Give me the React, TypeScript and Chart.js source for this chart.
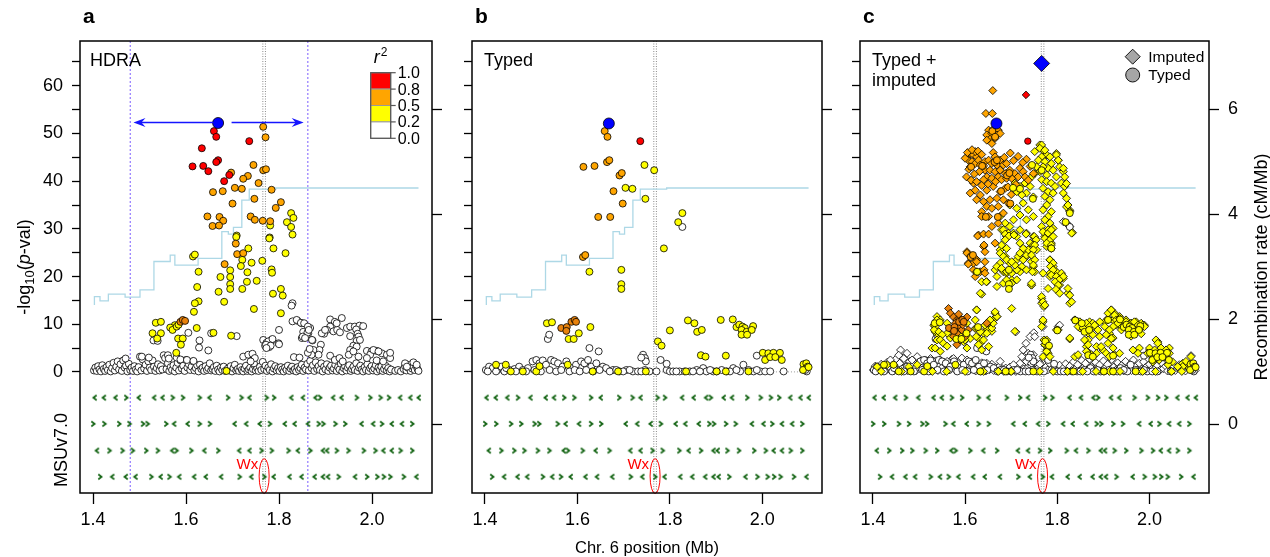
import React, { useEffect, useRef } from "react";
import { Chart, registerables } from "chart.js";

Chart.register(...registerables);

type Pt = [number, number];
type PanelKey = "a" | "b" | "c";

const FONT = "'Liberation Sans', Arial, Helvetica, sans-serif";

// ---------- axes ----------
const xTickValues = [1.4, 1.6, 1.8, 2.0];
const pvalTickValues = [0, 5, 10, 15, 20, 25, 30, 35, 40, 45, 50, 55, 60, 65];
const recombTickValues = [0, 2, 4, 6];
const xRange: Pt = [1.372, 2.129];
const pvalRange: Pt = [-25.4, 69.4];
const recombRange: Pt = [-1.31, 7.3];

const r2Labels = ["1.0", "0.8", "0.5", "0.2", "0.0"];
const r2Colors = ["#FF0000", "#FFA500", "#FFFF00", "#FFFFFF"];

// ---------- annotations ----------
const wxPosition = 1.768;
const wxLabelValue = -19.6;
const wxOvalTop = -18.2;
const wxOvalBottom = -25.5;
const hdraIntervalLeft = 1.48;
const hdraIntervalRight = 1.862;
const hdraArrowY = 52.3;
const hdraArrowLeft: Pt = [1.659, 1.487];
const hdraArrowRight: Pt = [1.698, 1.853];

// ---------- recombination rate (cM/Mb), step line ----------
const recombPos = [1.403, 1.415, 1.433, 1.469, 1.501, 1.531, 1.566, 1.576, 1.626, 1.677, 1.691, 1.702, 1.72, 1.736, 1.793, 2.078, 2.1];
const recombRate = [2.27, 2.43, 2.35, 2.48, 2.42, 2.56, 3.1, 3.22, 3.03, 3.16, 3.67, 3.62, 3.75, 4.27, 4.48, 4.5, 4.5];

// ---------- MSUv7.0 gene track: [position, strand] ----------
const geneRowY = [-5.4, -10.9, -16.5, -22];
const geneRow1: Pt[] = [[1.404,-1],[1.424,-1],[1.449,-1],[1.471,1],[1.499,-1],[1.532,-1],[1.55,-1],[1.571,1],[1.593,1],[1.629,1],[1.651,-1],[1.69,1],[1.719,1],[1.737,-1],[1.773,1],[1.789,1],[1.827,-1],[1.852,-1],[1.879,-1],[1.888,1],[1.917,-1],[1.935,-1],[1.967,1],[1.996,1],[2.018,1],[2.036,1],[2.061,-1],[2.083,-1],[2.101,-1]];
const geneRow2: Pt[] = [[1.4,1],[1.424,1],[1.456,1],[1.478,1],[1.507,1],[1.517,1],[1.557,1],[1.575,-1],[1.604,-1],[1.629,1],[1.651,1],[1.705,-1],[1.73,-1],[1.759,-1],[1.78,1],[1.813,-1],[1.834,-1],[1.863,-1],[1.885,1],[1.895,1],[1.921,1],[1.942,1],[1.978,-1],[2.003,-1],[2.021,1],[2.043,-1],[2.065,-1],[2.086,1]];
const geneRow3: Pt[] = [[1.409,-1],[1.435,1],[1.463,1],[1.485,1],[1.514,1],[1.539,1],[1.571,-1],[1.579,1],[1.611,1],[1.64,-1],[1.669,1],[1.715,-1],[1.737,-1],[1.762,1],[1.784,1],[1.82,1],[1.841,-1],[1.867,1],[1.895,-1],[1.904,-1],[1.924,1],[1.949,1],[1.982,1],[2.007,1],[2.025,-1],[2.043,-1],[2.061,1],[2.086,1]];
const geneRow4: Pt[] = [[1.415,1],[1.442,-1],[1.471,-1],[1.492,-1],[1.525,1],[1.546,-1],[1.564,1],[1.586,-1],[1.618,-1],[1.643,-1],[1.676,-1],[1.715,1],[1.741,-1],[1.768,1],[1.789,-1],[1.823,-1],[1.849,-1],[1.877,-1],[1.895,-1],[1.906,-1],[1.928,1],[1.964,-1],[1.989,1],[2.011,1],[2.025,1],[2.039,1],[2.068,1],[2.096,-1]];

// ---------- panel a: HDRA ----------
const hdraLead: Pt[] = [[1.669, 52.2]];
const hdraRed: Pt[] = [[1.66,50.5],[1.665,49.3],[1.736,48.4],[1.634,46.9],[1.669,44.4],[1.665,44.0],[1.614,43.1],[1.637,43.2],[1.648,42.1],[1.693,41.3],[1.682,40.0]];
const hdraOrange: Pt[] = [[1.766,51.4],[1.771,49.2],[1.745,43.4],[1.766,42.3],[1.772,42.5],[1.697,41.8],[1.733,41.1],[1.723,40.5],[1.756,39.6],[1.784,38.2],[1.658,37.7],[1.679,37.9],[1.705,38.6],[1.72,38.4],[1.747,36.3],[1.804,35.6],[1.7,35.3],[1.793,34.4],[1.646,32.6],[1.672,32.5],[1.739,32.6],[1.68,31.7],[1.657,30.6],[1.671,30.7],[1.748,31.9],[1.765,31.7],[1.781,31.6],[1.707,26.9],[1.71,24.7],[1.723,24.9],[1.683,22.6]];
const hdraOrangeDark: Pt[] = [[1.588,10.5],[1.593,10.9],[1.598,10.7]];
const hdraYellow: Pt[] = [[1.781,30.7],[1.826,33.3],[1.831,32.3],[1.817,31.4],[1.826,30.4],[1.829,28.8],[1.709,28.6],[1.78,28.2],[1.708,28.3],[1.734,25.9],[1.721,23.5],[1.741,22.9],[1.718,22.2],[1.764,23.3],[1.695,21.3],[1.732,20.9],[1.784,21.5],[1.785,20.8],[1.627,21.0],[1.615,24.2],[1.619,24.6],[1.814,24.9],[1.788,25.9],[1.779,28.0],[1.674,19.9],[1.695,19.9],[1.695,18.4],[1.695,17.4],[1.731,18.9],[1.752,19.1],[1.721,17.4],[1.624,17.8],[1.67,16.8],[1.787,16.4],[1.808,16.0],[1.804,17.4],[1.627,14.8],[1.619,14.4],[1.682,14.7],[1.746,13.2],[1.617,12.6],[1.804,12.3],[1.535,10.3],[1.546,10.5],[1.576,9.8],[1.566,9.3],[1.571,8.8],[1.58,9.5],[1.584,9.9],[1.623,9.2],[1.528,8.1],[1.546,8.1],[1.538,7.0],[1.583,7.0],[1.593,7.0],[1.589,5.7],[1.579,4.0],[1.659,8.2],[1.697,7.6],[1.687,0.2]];
const hdraWhite: Pt[] = [[1.829,14.4],[1.827,13.9],[1.829,10.6],[1.84,10.7],[1.849,10.2],[1.8,8.8],[1.852,8.4],[1.863,8.1],[1.859,7.4],[1.849,7.1],[1.872,6.6],[1.766,6.7],[1.773,6.1],[1.77,5.5],[1.784,6.7],[1.779,5.2],[1.799,6.0],[1.629,6.6],[1.628,5.1],[1.53,6.6],[1.539,6.5],[1.605,8.2],[1.648,4.5],[1.709,7.5],[1.723,3.2],[1.741,3.6],[1.745,2.7],[1.746,1.8],[1.832,3.1],[1.654,8.1],[1.734,3.6],[1.743,3.8],[1.748,2.9],[1.739,2.2],[1.777,6.4],[1.786,6.9],[1.772,5.7],[1.782,5.5],[1.8,5.8],[1.773,5.0],[1.844,3.0],[1.838,10.9],[1.847,10.3],[1.854,10.2],[1.867,9.2],[1.861,8.2],[1.851,7.4],[1.856,7.1],[1.871,6.7],[1.91,11.0],[1.92,10.5],[1.935,11.3],[1.91,9.5],[1.903,8.8],[1.897,8.0],[1.917,8.5],[1.925,8.8],[1.931,8.3],[1.946,9.2],[1.953,9.5],[1.963,9.5],[1.973,9.7],[1.981,9.6],[1.966,8.9],[1.969,8.0],[1.953,7.5],[1.971,7.4],[1.967,6.5],[1.96,5.5],[1.953,4.6],[1.95,3.6],[1.971,3.2],[1.989,4.4],[1.999,4.3],[2.01,4.4],[2.021,3.9],[2.032,3.6],[2.039,2.9],[1.996,3.6],[1.989,2.9],[2.01,2.4],[2.024,2.2],[1.91,3.4],[1.92,2.5],[1.93,2.9],[1.937,2.2],[1.89,5.7],[1.887,4.6],[1.885,3.6],[1.874,4.6],[1.87,3.6],[2.071,1.8],[2.089,2.0],[2.096,1.5],[2.075,1.1],[1.892,8.1],[1.899,8.8],[1.924,10.2],[1.974,6.7],[1.967,5.3],[1.96,4.3],[2.003,4.6],[2.014,4.3],[2.039,4.0],[1.862,9.5],[1.864,8.8],[1.862,4.0],[1.866,4.8],[1.505,3.2],[1.47,2.8],[1.52,3.0],[1.561,3.5],[1.563,2.8],[1.58,3.0],[1.588,2.6],[1.602,2.5],[1.616,2.3]];
const hdraBase: Pt[] = [[1.402,0.3],[1.405,0.9],[1.408,0.2],[1.411,1.2],[1.414,0.5],[1.417,0.1],[1.42,1.4],[1.423,0.6],[1.426,0.2],[1.429,1.0],[1.432,0.4],[1.435,1.5],[1.438,0.1],[1.441,0.8],[1.444,1.9],[1.447,0.3],[1.45,1.1],[1.453,2.2],[1.456,0.5],[1.459,1.6],[1.462,0.2],[1.465,2.4],[1.468,0.9],[1.471,1.3],[1.474,0.1],[1.477,1.7],[1.48,0.4],[1.483,0.9],[1.486,0.2],[1.489,1.2],[1.492,0.5],[1.495,0.1],[1.498,1.0],[1.501,3.2],[1.504,0.3],[1.507,2.6],[1.51,0.7],[1.513,1.5],[1.516,0.2],[1.519,2.2],[1.522,0.9],[1.525,0.4],[1.528,2.4],[1.531,1.1],[1.534,0.2],[1.537,0.8],[1.54,1.6],[1.543,0.3],[1.546,1.2],[1.549,0.5],[1.552,3.5],[1.555,2.9],[1.558,0.6],[1.561,1.8],[1.564,0.2],[1.567,1.0],[1.57,0.4],[1.573,1.4],[1.576,0.1],[1.579,0.9],[1.582,1.9],[1.585,0.3],[1.588,2.4],[1.591,0.7],[1.594,1.3],[1.597,0.2],[1.6,2.5],[1.603,0.9],[1.606,1.6],[1.609,0.4],[1.612,1.1],[1.615,2.2],[1.618,0.3],[1.621,0.8],[1.624,1.4],[1.627,0.1],[1.63,1.5],[1.633,0.6],[1.636,0.9],[1.639,0.2],[1.642,1.2],[1.645,0.4],[1.648,0.8],[1.651,1.8],[1.654,0.3],[1.657,0.6],[1.66,1.0],[1.663,0.2],[1.666,1.3],[1.669,0.5],[1.672,0.1],[1.675,0.9],[1.678,0.4],[1.681,1.1],[1.684,0.2],[1.69,0.7],[1.693,0.3],[1.696,1.2],[1.699,0.1],[1.702,0.8],[1.705,1.5],[1.708,0.3],[1.711,0.6],[1.714,0.2],[1.717,1.0],[1.72,0.4],[1.723,0.1],[1.726,0.7],[1.729,1.3],[1.732,0.2],[1.735,0.5],[1.738,0.9],[1.741,0.1],[1.744,0.6],[1.747,1.4],[1.75,0.3],[1.753,0.8],[1.756,0.2],[1.759,1.1],[1.762,0.4],[1.765,2.1],[1.768,0.6],[1.771,1.3],[1.774,0.2],[1.777,0.9],[1.78,0.4],[1.783,1.6],[1.786,0.1],[1.789,0.7],[1.792,1.2],[1.795,0.3],[1.798,0.8],[1.801,0.2],[1.804,1.0],[1.807,0.5],[1.81,0.1],[1.813,0.9],[1.816,0.4],[1.819,1.3],[1.822,0.2],[1.825,0.7],[1.828,1.1],[1.831,0.3],[1.834,0.6],[1.837,0.1],[1.84,1.0],[1.843,0.4],[1.846,0.8],[1.849,1.5],[1.852,0.2],[1.855,0.9],[1.858,0.5],[1.861,1.7],[1.864,0.3],[1.867,2.3],[1.87,0.8],[1.873,1.4],[1.876,0.2],[1.879,2.0],[1.882,0.6],[1.885,1.2],[1.888,0.4],[1.891,1.8],[1.894,0.1],[1.897,1.1],[1.9,0.5],[1.903,1.6],[1.906,0.2],[1.909,0.9],[1.912,1.3],[1.915,0.3],[1.918,0.7],[1.921,1.5],[1.924,0.2],[1.927,1.0],[1.93,0.5],[1.933,1.7],[1.936,0.1],[1.939,0.8],[1.942,1.2],[1.945,0.3],[1.948,0.9],[1.951,1.4],[1.954,0.2],[1.957,0.6],[1.96,1.1],[1.963,0.4],[1.966,1.8],[1.969,0.2],[1.972,0.9],[1.975,1.3],[1.978,0.5],[1.981,0.1],[1.984,1.0],[1.987,0.4],[1.99,1.6],[1.993,0.2],[1.996,0.8],[1.999,1.2],[2.002,0.3],[2.005,0.7],[2.008,1.4],[2.011,0.1],[2.014,0.9],[2.017,0.4],[2.02,1.1],[2.023,0.2],[2.026,0.6],[2.029,1.3],[2.032,0.3],[2.035,0.8],[2.038,0.1],[2.041,0.5],[2.05,0.2],[2.056,0.4],[2.062,0.1],[2.068,0.6],[2.071,1.2],[2.074,0.3],[2.077,0.9],[2.08,1.5],[2.083,0.2],[2.086,0.7],[2.089,1.1],[2.092,0.4],[2.095,1.3],[2.098,0.6],[2.1,0.2]];

// ---------- panel b: typed ----------
const typedLead: Pt[] = [[1.668, 52.1]];
const typedRed: Pt[] = [[1.736, 48.4]];
const typedOrange: Pt[] = [[1.659,50.5],[1.665,49.3],[1.664,44.0],[1.669,44.4],[1.613,43.0],[1.637,43.2],[1.691,41.2],[1.696,41.7],[1.678,37.9],[1.698,35.3],[1.645,32.5],[1.671,32.5],[1.612,24.1],[1.617,24.5]];
const typedOrangeDark: Pt[] = [[1.565,9.2],[1.577,9.4],[1.587,10.5],[1.594,10.9],[1.597,10.5],[1.576,8.6]];
const typedYellow: Pt[] = [[1.745,43.4],[1.766,42.3],[1.704,38.6],[1.719,38.4],[1.747,36.3],[1.827,33.3],[1.818,31.4],[1.787,25.9],[1.626,21.0],[1.695,21.4],[1.695,18.4],[1.695,17.4],[1.534,10.2],[1.545,10.4],[1.581,6.9],[1.592,6.9],[1.603,8.1],[1.628,9.4],[1.774,6.4],[1.782,5.5],[1.8,8.7],[1.839,10.8],[1.853,10.2],[1.859,8.4],[1.869,8.8],[1.867,3.5],[1.877,3.2],[1.91,10.9],[1.936,11.0],[1.944,9.4],[1.95,9.9],[1.957,9.5],[1.962,9.2],[1.955,8.8],[1.966,8.4],[1.98,9.6],[1.977,8.8],[1.955,7.8],[1.967,7.8],[1.921,3.4],[2.001,4.0],[2.013,3.9],[2.024,4.0],[2.038,4.0],[2.006,2.5],[2.017,3.1],[2.028,3.1],[2.042,2.5],[2.089,1.6],[2.095,1.8],[2.098,1.1],[2.088,0.4],[2.1,1.0]];
const typedBaseYellow: Pt[] = [[1.424,1.5],[1.445,1.5],[1.456,0.1],[1.482,0.1],[1.511,0.1],[1.518,1.2],[1.579,1.5],[1.633,0.1],[1.688,0.1],[1.748,0.1],[1.835,0.1],[1.901,0.1],[1.921,0.1],[1.97,0.1]];
const typedWhite: Pt[] = [[1.827,30.4],[1.536,6.9],[1.539,7.8],[1.626,5.0],[1.646,4.3],[1.742,3.6],[1.746,2.9],[1.748,2.2],[1.738,3.0],[1.78,2.5],[1.793,1.7],[1.988,3.4]];
const typedBase: Pt[] = [[1.402,0.4],[1.409,1.1],[1.417,0.8],[1.427,0.4],[1.435,1.1],[1.442,0.1],[1.453,0.4],[1.464,0.6],[1.474,1.1],[1.482,0.4],[1.493,0.8],[1.503,2.2],[1.511,2.5],[1.518,1.8],[1.525,2.4],[1.532,1.5],[1.543,2.5],[1.55,2.2],[1.558,1.8],[1.568,1.1],[1.576,2.2],[1.587,0.8],[1.597,1.5],[1.608,2.2],[1.615,1.8],[1.623,2.5],[1.63,1.1],[1.641,1.8],[1.655,1.1],[1.662,0.8],[1.677,0.4],[1.691,0.1],[1.706,0.4],[1.72,0.1],[1.731,0.1],[1.746,0.4],[1.756,0.1],[1.771,0.1],[1.793,0.4],[1.8,0.1],[1.807,0.1],[1.821,0.1],[1.832,0.1],[1.843,0.1],[1.858,0.4],[1.872,0.8],[1.879,0.1],[1.894,0.1],[1.912,0.4],[1.923,0.1],[1.937,0.8],[1.952,0.1],[1.959,1.5],[1.97,0.4],[1.981,0.1],[1.995,0.1],[2.006,0.1],[2.017,0.1],[2.046,0.1],[2.096,0.1],[1.406,0.1],[1.424,0.1],[1.446,0.8],[1.467,0.1],[1.489,0.1],[1.507,0.4],[1.521,0.1],[1.54,0.4],[1.554,0.1],[1.565,0.4],[1.583,0.1],[1.594,0.4],[1.605,0.1],[1.619,0.4],[1.634,0.1],[1.648,0.4],[1.67,0.1],[1.684,0.4],[1.699,0.1],[1.713,0.4],[1.738,0.1],[1.814,0.1],[1.85,0.1],[1.865,0.1],[1.887,0.4],[1.901,0.1],[1.93,0.1],[1.944,0.4],[1.988,0.4],[2.093,0.4]];

// ---------- panel c: typed + imputed (imputed = diamonds) ----------
const imputedLead: Pt[] = [[1.766, 64.7]];
const imputedRed: Pt[] = [[1.732, 58.1]];
const imputedOrange: Pt[] = [[1.66,59.0],[1.645,54.2],[1.659,54.2],[1.651,50.7],[1.661,50.9],[1.672,50.7],[1.647,49.7],[1.658,50.0],[1.669,49.7],[1.654,48.8],[1.665,49.0],[1.676,50.0],[1.647,48.6],[1.658,47.9],[1.604,45.1],[1.611,45.8],[1.618,45.5],[1.625,45.1],[1.607,44.4],[1.615,44.1],[1.622,43.7],[1.629,44.4],[1.611,43.0],[1.633,43.4],[1.6,44.8],[1.622,46.2],[1.661,46.0],[1.665,45.1],[1.676,44.4],[1.643,44.1],[1.651,44.4],[1.658,43.7],[1.669,43.4],[1.683,43.4],[1.643,42.3],[1.654,42.3],[1.665,42.0],[1.676,42.3],[1.687,41.6],[1.647,40.9],[1.658,40.6],[1.672,40.9],[1.679,40.3],[1.69,40.6],[1.64,40.3],[1.697,42.3],[1.708,41.6],[1.719,42.7],[1.726,42.0],[1.733,44.6],[1.741,43.1],[1.715,40.9],[1.73,40.9],[1.737,40.2],[1.748,41.6],[1.701,40.6],[1.611,37.5],[1.622,38.1],[1.633,37.1],[1.647,38.1],[1.661,38.9],[1.676,37.8],[1.687,38.5],[1.625,36.1],[1.64,35.7],[1.654,36.1],[1.669,36.4],[1.683,36.1],[1.647,34.7],[1.658,34.3],[1.636,33.6],[1.672,34.7],[1.694,35.4],[1.618,39.6],[1.683,33.3],[1.636,32.6],[1.651,32.6],[1.658,30.5],[1.672,31.2],[1.629,28.7],[1.64,26.3],[1.604,25.2],[1.607,22.8],[1.618,21.4],[1.643,25.2],[1.625,23.5],[1.627,28.5],[1.64,28.9],[1.651,28.9],[1.665,27.0],[1.641,26.6],[1.604,24.9],[1.612,24.3],[1.622,23.8],[1.618,22.8],[1.607,22.6],[1.625,23.1],[1.633,21.0],[1.622,20.0],[1.643,23.1],[1.641,21.4],[1.625,21.0],[1.643,20.7],[1.605,46.0],[1.615,46.6],[1.628,46.3],[1.636,45.6],[1.64,43.2],[1.631,42.0],[1.62,41.5],[1.608,42.5],[1.603,40.9],[1.613,40.2],[1.625,39.9],[1.636,39.1],[1.65,39.4],[1.666,39.9],[1.693,38.8],[1.7,37.2],[1.71,39.3],[1.69,43.7],[1.705,44.3],[1.715,45.2],[1.725,43.9],[1.698,45.9],[1.685,45.0]];
const imputedOrangeDark: Pt[] = [[1.564,13.3],[1.568,12.3],[1.575,11.5],[1.582,10.9],[1.589,11.2],[1.597,10.9],[1.604,11.5],[1.579,10.2],[1.589,9.5],[1.571,8.8],[1.582,8.1],[1.593,8.8],[1.575,7.4],[1.589,6.7],[1.582,5.7],[1.6,7.4],[1.607,8.8],[1.647,10.2],[1.586,12.1],[1.595,9.9]];
const imputedYellow: Pt[] = [[1.751,46.2],[1.762,47.6],[1.769,46.5],[1.777,45.5],[1.766,45.1],[1.759,44.4],[1.773,44.1],[1.784,45.1],[1.787,43.7],[1.78,42.7],[1.769,43.0],[1.755,43.0],[1.762,42.0],[1.777,41.3],[1.791,42.3],[1.798,45.8],[1.802,44.4],[1.805,43.0],[1.813,42.0],[1.798,40.9],[1.751,41.6],[1.744,40.9],[1.708,39.6],[1.719,38.9],[1.73,39.6],[1.741,38.9],[1.733,37.5],[1.723,37.1],[1.712,37.8],[1.748,36.7],[1.697,35.0],[1.712,34.3],[1.726,35.4],[1.737,34.0],[1.719,32.9],[1.705,31.9],[1.733,31.9],[1.748,32.6],[1.766,40.3],[1.777,39.9],[1.787,39.6],[1.795,38.9],[1.769,38.5],[1.78,37.8],[1.791,37.5],[1.773,36.8],[1.784,36.1],[1.777,35.0],[1.769,34.0],[1.787,33.6],[1.78,32.6],[1.773,31.9],[1.784,31.2],[1.791,30.1],[1.777,29.4],[1.766,30.5],[1.809,39.6],[1.816,38.9],[1.813,37.5],[1.82,36.4],[1.823,35.0],[1.827,33.9],[1.82,34.6],[1.833,29.2],[1.676,32.6],[1.687,31.2],[1.697,30.5],[1.679,29.8],[1.694,29.1],[1.719,29.8],[1.733,29.1],[1.712,28.4],[1.748,28.4],[1.766,47.6],[1.762,46.9],[1.773,46.5],[1.798,45.5],[1.802,44.4],[1.813,42.7],[1.816,40.9],[1.82,39.5],[1.823,35.0],[1.827,33.6],[1.683,29.8],[1.69,28.4],[1.705,29.1],[1.719,27.0],[1.73,25.6],[1.741,27.0],[1.752,28.0],[1.676,25.6],[1.687,24.2],[1.697,22.8],[1.712,23.5],[1.723,22.1],[1.733,24.2],[1.744,21.4],[1.683,21.0],[1.665,21.4],[1.784,23.5],[1.791,22.1],[1.798,21.0],[1.809,20.3],[1.784,20.7],[1.777,26.3],[1.78,29.8],[1.773,28.4],[1.787,27.0],[1.636,16.3],[1.647,18.9],[1.669,20.0],[1.683,18.6],[1.69,20.7],[1.701,19.3],[1.719,21.0],[1.744,18.2],[1.769,20.7],[1.784,20.0],[1.798,18.9],[1.805,18.2],[1.813,19.6],[1.823,16.5],[1.78,17.5],[1.766,15.4],[1.766,14.4],[1.771,13.7],[1.827,14.4],[1.701,13.3],[1.625,13.0],[1.665,12.3],[1.661,10.9],[1.654,9.8],[1.647,9.1],[1.64,8.1],[1.629,7.0],[1.633,6.0],[1.622,9.1],[1.658,8.5],[1.669,11.6],[1.651,10.5],[1.539,11.6],[1.546,10.9],[1.532,9.8],[1.535,8.4],[1.543,7.7],[1.539,6.7],[1.528,5.0],[1.546,4.3],[1.561,8.1],[1.586,7.4],[1.597,6.3],[1.611,7.0],[1.604,5.0],[1.769,10.5],[1.766,9.5],[1.777,6.7],[1.773,5.7],[1.777,4.6],[1.78,3.9],[1.769,3.2],[1.708,8.5],[1.802,8.8],[1.827,6.9],[1.838,10.9],[1.845,10.5],[1.852,10.2],[1.863,9.8],[1.87,10.5],[1.877,10.2],[1.849,9.2],[1.859,8.8],[1.867,8.1],[1.874,9.2],[1.867,6.7],[1.863,5.3],[1.87,3.9],[1.877,3.2],[1.885,5.3],[1.899,4.6],[1.906,3.9],[1.917,13.0],[1.924,12.3],[1.91,11.2],[1.903,10.5],[1.921,10.9],[1.935,11.6],[1.942,10.5],[1.928,9.8],[1.949,10.9],[1.96,10.2],[1.971,10.5],[1.982,10.2],[1.989,9.8],[1.964,9.2],[1.953,9.5],[1.939,9.5],[1.913,8.1],[1.921,7.1],[1.91,6.0],[1.964,4.6],[1.978,5.0],[1.975,3.9],[2.0,4.6],[2.011,4.3],[2.018,6.3],[2.025,4.3],[2.036,4.6],[2.043,5.0],[2.032,3.2],[2.021,2.5],[2.007,2.1],[2.05,2.1],[2.04,1.5],[2.072,1.8],[2.083,1.1],[2.094,0.8],[2.09,3.2],[1.687,28.9],[1.695,28.5],[1.706,28.7],[1.687,27.7],[1.679,26.6],[1.69,25.9],[1.676,24.9],[1.683,24.2],[1.69,23.5],[1.676,22.8],[1.669,22.1],[1.679,21.7],[1.69,21.0],[1.701,20.7],[1.712,21.4],[1.708,22.4],[1.701,23.1],[1.715,24.2],[1.726,23.5],[1.733,24.5],[1.737,25.6],[1.726,25.9],[1.719,24.9],[1.744,23.1],[1.748,22.1],[1.751,21.0],[1.733,21.4],[1.744,18.2],[1.732,28.9],[1.75,28.4],[1.748,26.6],[1.755,25.6],[1.636,18.9],[1.646,18.9],[1.633,16.5],[1.669,17.9],[1.69,19.3],[1.701,18.6],[1.712,19.3],[1.539,10.9],[1.535,9.5],[1.533,8.8],[1.543,8.4],[1.55,7.8],[1.546,6.7],[1.553,6.0],[1.535,5.0],[1.561,5.4],[1.589,8.1],[1.6,6.7],[1.604,10.2],[1.579,9.2],[1.568,7.1],[1.561,10.2],[1.625,13.0],[1.622,10.9],[1.625,9.2],[1.624,7.4],[1.629,5.7],[1.64,6.7],[1.647,8.1],[1.658,9.2],[1.661,10.2],[1.669,11.6],[1.665,12.6],[1.654,10.9],[1.643,9.8],[1.633,8.4],[1.651,5.3],[1.636,4.6],[1.769,29.4],[1.78,29.1],[1.787,29.8],[1.773,28.0],[1.784,27.7],[1.791,28.4],[1.777,27.0],[1.787,26.6],[1.787,25.9],[1.754,27.7],[1.751,26.6],[1.748,25.6],[1.744,24.5],[1.751,23.5],[1.748,22.4],[1.746,21.0],[1.744,18.6],[1.831,29.1],[1.784,23.5],[1.791,22.8],[1.785,22.1],[1.791,21.4],[1.787,20.3],[1.798,20.0],[1.809,20.7],[1.813,20.0],[1.804,19.3],[1.795,18.9],[1.802,18.2],[1.797,17.3],[1.805,16.5],[1.823,17.5],[1.827,16.1],[1.831,14.7],[1.766,15.8],[1.769,14.7],[1.773,14.0],[1.769,10.9],[1.771,6.7],[1.773,5.7],[1.78,5.3],[1.777,4.3],[1.784,3.2],[1.798,8.8],[1.827,7.1],[1.838,10.9],[1.849,10.5],[1.863,10.2],[1.845,9.5],[1.856,9.2],[1.87,9.5],[1.881,9.8],[1.892,10.5],[1.91,10.9],[1.903,9.5],[1.888,8.8],[1.859,6.7],[1.867,5.7],[1.863,4.3],[1.874,3.6],[1.885,3.9],[1.895,5.3],[1.892,7.4],[1.877,7.8],[1.91,12.3],[1.917,13.0],[1.924,11.9],[1.928,10.9],[1.935,11.2],[1.931,10.2],[1.921,9.5],[1.913,8.8],[1.939,8.8],[1.906,7.8],[1.917,7.0],[1.949,10.5],[1.96,10.2],[1.967,10.5],[1.975,9.8],[1.985,9.8],[1.957,9.2],[1.964,8.5],[1.978,8.8],[1.989,9.5],[1.96,7.5],[1.982,8.0],[1.838,3.2],[1.845,3.6],[1.913,3.2],[1.924,3.6],[1.935,3.9],[1.921,5.0],[2.014,6.7],[2.018,6.0],[2.0,5.0],[2.011,4.6],[2.025,5.0],[2.036,4.6],[2.043,3.9],[2.029,3.6],[2.014,2.9],[2.007,2.9],[1.996,3.9],[2.079,2.2],[2.093,1.5],[2.072,1.1],[2.061,1.1],[2.086,0.8],[1.409,1.1],[1.431,1.5],[1.445,1.5],[1.478,1.1],[1.496,1.5],[1.418,0.1],[1.462,0.1],[1.529,0.1],[1.56,0.1],[1.6,0.1],[1.64,0.1],[1.672,0.1],[1.7,0.1],[1.762,0.1],[1.791,0.1],[1.822,0.1],[1.855,0.1],[1.884,0.1],[1.913,0.1],[1.936,0.1],[1.985,0.1],[2.013,0.1],[2.048,0.1],[2.07,0.1]];
const imputedWhite: Pt[] = [[1.71,8.4],[1.749,8.2],[1.741,7.4],[1.732,6.0],[1.726,4.6],[1.737,3.9],[1.723,3.2],[1.748,3.6],[1.733,2.2],[1.744,1.8],[1.719,1.8],[1.813,31.5],[1.82,31.2],[1.827,30.5],[1.769,9.5],[1.802,9.5],[1.751,7.4],[2.09,3.4],[1.805,9.8],[1.46,4.6],[1.456,3.5],[1.467,2.8],[1.485,2.5],[1.503,2.2],[1.517,1.8],[1.438,2.5],[1.474,3.9],[1.496,3.2],[1.525,2.8],[1.546,2.5],[1.561,2.2],[1.575,2.8],[1.604,2.5],[1.618,1.8],[1.647,1.8],[1.676,2.2],[1.705,1.5]];
const imputedBase: Pt[] = [[1.401,0.4],[1.405,1.2],[1.409,0.2],[1.413,0.8],[1.418,1.6],[1.422,0.3],[1.427,1.0],[1.431,2.0],[1.436,0.5],[1.44,1.4],[1.445,0.2],[1.449,2.6],[1.453,0.9],[1.458,1.8],[1.462,0.4],[1.466,3.0],[1.471,1.2],[1.475,0.3],[1.48,2.2],[1.484,0.7],[1.488,1.5],[1.493,0.2],[1.497,2.8],[1.501,0.9],[1.506,1.9],[1.51,0.4],[1.514,2.5],[1.519,1.1],[1.523,0.2],[1.528,1.7],[1.532,0.6],[1.536,2.3],[1.541,0.3],[1.545,1.3],[1.549,0.8],[1.554,2.0],[1.558,0.2],[1.562,1.4],[1.567,0.5],[1.571,2.6],[1.575,1.0],[1.58,0.3],[1.584,1.8],[1.588,0.6],[1.593,2.9],[1.597,1.2],[1.601,0.2],[1.606,1.6],[1.61,0.5],[1.614,2.1],[1.619,0.9],[1.623,0.2],[1.627,1.3],[1.632,0.4],[1.636,1.9],[1.64,0.7],[1.645,0.2],[1.649,1.1],[1.653,0.5],[1.658,1.6],[1.662,0.3],[1.666,0.9],[1.671,0.2],[1.675,1.2],[1.679,0.5],[1.684,0.1],[1.688,0.8],[1.692,0.3],[1.697,1.0],[1.701,0.2],[1.705,0.6],[1.71,0.1],[1.714,0.9],[1.718,0.3],[1.723,1.5],[1.727,0.6],[1.731,2.4],[1.736,0.9],[1.74,3.1],[1.744,1.2],[1.749,0.4],[1.753,2.0],[1.757,0.7],[1.762,1.6],[1.766,0.3],[1.77,2.8],[1.775,1.0],[1.779,0.4],[1.783,1.8],[1.788,0.6],[1.792,0.2],[1.796,1.1],[1.801,0.5],[1.805,1.4],[1.809,0.2],[1.814,0.9],[1.818,1.7],[1.822,0.4],[1.827,1.2],[1.831,0.3],[1.835,2.1],[1.84,0.7],[1.844,1.5],[1.848,0.2],[1.853,2.4],[1.857,0.9],[1.861,1.8],[1.866,0.4],[1.87,2.7],[1.874,1.1],[1.879,0.3],[1.883,2.0],[1.887,0.8],[1.892,1.5],[1.896,0.2],[1.9,2.3],[1.905,0.9],[1.909,1.6],[1.913,0.4],[1.918,2.6],[1.922,1.0],[1.926,0.3],[1.931,1.9],[1.935,0.7],[1.939,1.3],[1.944,0.2],[1.948,2.2],[1.952,0.8],[1.957,1.5],[1.961,0.3],[1.965,2.5],[1.97,1.1],[1.974,0.4],[1.978,1.8],[1.983,0.6],[1.987,2.1],[1.991,0.9],[1.996,0.2],[2.0,1.6],[2.004,0.5],[2.009,2.2],[2.013,0.8],[2.017,1.4],[2.022,0.3],[2.026,1.9],[2.03,0.7],[2.035,1.2],[2.039,0.2],[2.043,1.7],[2.048,0.5],[2.052,1.1],[2.056,0.3],[2.061,0.8],[2.065,1.5],[2.069,0.4],[2.074,1.2],[2.078,0.2],[2.082,0.9],[2.087,1.6],[2.091,0.5],[2.095,1.1],[2.099,0.3]];

// ---------- colours ----------
const RED = "#FF0000";
const ORANGE = "#FFA500";
const ORANGE_DARK = "#E8820C";
const YELLOW = "#FFFF00";
const WHITE = "#FFFFFF";
const BLUE = "#0000FF";
const GENE_GREEN = "#156515";
const RECOMB_BLUE = "#ADD8E6";

const panelFrames: Record<PanelKey, { canvasLeft: number; canvasWidth: number; leftAxis: number; rightAxis: number }> = {
  a: { canvasLeft: 0, canvasWidth: 452, leftAxis: 80, rightAxis: 20 },
  b: { canvasLeft: 452, canvasWidth: 390, leftAxis: 20, rightAxis: 20 },
  c: { canvasLeft: 842, canvasWidth: 428, leftAxis: 18, rightAxis: 61 },
};

function toXY(list: Pt[]) {
  return list.map(([x, y]) => ({ x, y }));
}

function pointSet(data: Pt[], color: string, shape: string, radius: number) {
  return {
    type: "scatter",
    data: toXY(data),
    yAxisID: "y",
    pointStyle: shape,
    pointRadius: radius,
    pointBackgroundColor: color,
    pointBorderColor: "#000",
    pointBorderWidth: 0.8,
    showLine: false,
  };
}

function makeChevron(dir: number) {
  const c = document.createElement("canvas");
  c.width = 8;
  c.height = 8;
  const g = c.getContext("2d")!;
  g.strokeStyle = GENE_GREEN;
  g.lineWidth = 1.7;
  g.beginPath();
  if (dir > 0) {
    g.moveTo(2.3, 1.5);
    g.lineTo(5.6, 4);
    g.lineTo(2.3, 6.5);
  } else {
    g.moveTo(5.7, 1.5);
    g.lineTo(2.4, 4);
    g.lineTo(5.7, 6.5);
  }
  g.stroke();
  return c;
}

function txt(ctx: CanvasRenderingContext2D, s: string, x: number, y: number, font: string, align: CanvasTextAlign = "left", baseline: CanvasTextBaseline = "alphabetic", color = "#000") {
  ctx.font = font;
  ctx.textAlign = align;
  ctx.textBaseline = baseline;
  ctx.fillStyle = color;
  ctx.fillText(s, x, y);
}

function rotatedParts(ctx: CanvasRenderingContext2D, cx: number, cy: number, parts: { t: string; f: string; dy: number }[]) {
  ctx.save();
  ctx.translate(cx, cy);
  ctx.rotate(-Math.PI / 2);
  let total = 0;
  for (const p of parts) {
    ctx.font = p.f;
    total += ctx.measureText(p.t).width;
  }
  let x = -total / 2;
  ctx.textAlign = "left";
  ctx.textBaseline = "alphabetic";
  ctx.fillStyle = "#000";
  for (const p of parts) {
    ctx.font = p.f;
    ctx.fillText(p.t, x, 6 + p.dy);
    x += ctx.measureText(p.t).width;
  }
  ctx.restore();
}

function drawArrow(ctx: CanvasRenderingContext2D, x0: number, x1: number, y: number) {
  const d = Math.sign(x1 - x0);
  ctx.beginPath();
  ctx.moveTo(x0, y);
  ctx.lineTo(x1 - d * 6, y);
  ctx.stroke();
  ctx.beginPath();
  ctx.moveTo(x1, y);
  ctx.lineTo(x1 - d * 12, y - 4.5);
  ctx.lineTo(x1 - d * 8, y);
  ctx.lineTo(x1 - d * 12, y + 4.5);
  ctx.closePath();
  ctx.fill();
}

function makeDeco(panel: PanelKey) {
  return {
    id: "deco" + panel,
    beforeDatasetsDraw(chart: any) {
      const { ctx, chartArea: ca, scales } = chart;
      const xs = scales.x;
      const ys = scales.y;
      ctx.save();
      ctx.beginPath();
      ctx.rect(ca.left, ca.top, ca.right - ca.left, ca.bottom - ca.top);
      ctx.clip();
      ctx.setLineDash([1, 2]);
      ctx.strokeStyle = "#9A9A9A";
      ctx.lineWidth = 1;
      const y0 = ys.getPixelForValue(0);
      ctx.beginPath();
      ctx.moveTo(xs.getPixelForValue(1.4), y0);
      ctx.lineTo(xs.getPixelForValue(2.1), y0);
      ctx.stroke();
      const wx = xs.getPixelForValue(wxPosition);
      ctx.setLineDash([1, 1.5]);
      ctx.strokeStyle = "#8C8C8C";
      for (const d of [-1.3, 1.3]) {
        ctx.beginPath();
        ctx.moveTo(wx + d, ca.top);
        ctx.lineTo(wx + d, ca.bottom);
        ctx.stroke();
      }
      if (panel === "a") {
        ctx.setLineDash([2, 2]);
        ctx.strokeStyle = "#7B5CFF";
        for (const v of [hdraIntervalLeft, hdraIntervalRight]) {
          const px = xs.getPixelForValue(v);
          ctx.beginPath();
          ctx.moveTo(px, ca.top);
          ctx.lineTo(px, ca.bottom);
          ctx.stroke();
        }
      }
      ctx.restore();
    },
    afterDatasetsDraw(chart: any) {
      const { ctx, chartArea: ca, scales } = chart;
      const xs = scales.x;
      const ys = scales.y;
      ctx.save();
      const wx = xs.getPixelForValue(wxPosition);
      const top = ys.getPixelForValue(wxOvalTop);
      const bot = ys.getPixelForValue(wxOvalBottom);
      ctx.strokeStyle = "#FF0000";
      ctx.lineWidth = 1;
      ctx.setLineDash([]);
      ctx.beginPath();
      ctx.ellipse(wx, (top + bot) / 2, 5, (bot - top) / 2, 0, 0, Math.PI * 2);
      ctx.stroke();
      txt(ctx, "Wx", wx - 6, ys.getPixelForValue(wxLabelValue), `15px ${FONT}`, "right", "middle", "#FF0000");

      ctx.strokeStyle = "#000";
      ctx.lineWidth = 1.5;
      ctx.strokeRect(ca.left, ca.top, ca.right - ca.left, ca.bottom - ca.top);

      txt(ctx, panel, ca.left + 3, 23, `bold 21px ${FONT}`);

      if (panel === "a") {
        txt(ctx, "HDRA", ca.left + 10, 66, `18px ${FONT}`);
        ctx.strokeStyle = "#1515FF";
        ctx.fillStyle = "#1515FF";
        ctx.lineWidth = 1.4;
        const ay = ys.getPixelForValue(hdraArrowY);
        drawArrow(ctx, xs.getPixelForValue(hdraArrowLeft[0]), xs.getPixelForValue(hdraArrowLeft[1]), ay);
        drawArrow(ctx, xs.getPixelForValue(hdraArrowRight[0]), xs.getPixelForValue(hdraArrowRight[1]), ay);
        const bx = ca.right - 61.3;
        const by = ca.top + 31.7;
        const seg = 16.4;
        r2Colors.forEach((c, i) => {
          ctx.fillStyle = c;
          ctx.fillRect(bx, by + i * seg, 20, seg);
          ctx.strokeStyle = "#9A9A9A";
          ctx.lineWidth = 1;
          ctx.strokeRect(bx, by + i * seg, 20, seg);
        });
        ctx.strokeStyle = "#555";
        ctx.lineWidth = 1.2;
        ctx.strokeRect(bx, by, 20, seg * 4);
        r2Labels.forEach((l, i) => {
          ctx.beginPath();
          ctx.moveTo(bx + 20, by + i * seg);
          ctx.lineTo(bx + 25, by + i * seg);
          ctx.stroke();
          txt(ctx, l, bx + 27, by + i * seg + 1, `16px ${FONT}`, "left", "middle");
        });
        txt(ctx, "r", bx + 3, 63, `italic 18px ${FONT}`);
        txt(ctx, "2", bx + 10, 56, `12px ${FONT}`);
        rotatedParts(ctx, 24, (ca.top + ca.bottom) / 2, [
          { t: "-log", f: `18px ${FONT}`, dy: 0 },
          { t: "10", f: `13px ${FONT}`, dy: 4 },
          { t: "(", f: `18px ${FONT}`, dy: 0 },
          { t: "p", f: `italic 18px ${FONT}`, dy: 0 },
          { t: "-val)", f: `18px ${FONT}`, dy: 0 },
        ]);
        rotatedParts(ctx, 61, 450, [{ t: "MSUv7.0", f: `18px ${FONT}`, dy: 0 }]);
      }
      if (panel === "b") {
        txt(ctx, "Typed", ca.left + 12, 66, `18px ${FONT}`);
        txt(ctx, "Chr. 6 position (Mb)", (ca.left + ca.right) / 2, 548, `16.5px ${FONT}`, "center", "middle");
      }
      if (panel === "c") {
        txt(ctx, "Typed +", ca.left + 12, 66, `18px ${FONT}`);
        txt(ctx, "imputed", ca.left + 12, 86, `18px ${FONT}`);
        const lx = ca.right - 76.3;
        ctx.fillStyle = "#A6A6A6";
        ctx.strokeStyle = "#000";
        ctx.lineWidth = 0.9;
        ctx.beginPath();
        ctx.moveTo(lx, 56.7 - 7.5);
        ctx.lineTo(lx + 7.5, 56.7);
        ctx.lineTo(lx, 56.7 + 7.5);
        ctx.lineTo(lx - 7.5, 56.7);
        ctx.closePath();
        ctx.fill();
        ctx.stroke();
        ctx.beginPath();
        ctx.arc(lx, 75, 7, 0, Math.PI * 2);
        ctx.fill();
        ctx.stroke();
        txt(ctx, "Imputed", ca.right - 60.7, 57.5, `15.5px ${FONT}`, "left", "middle");
        txt(ctx, "Typed", ca.right - 60.7, 75.5, `15.5px ${FONT}`, "left", "middle");
        rotatedParts(ctx, ca.right + 51.5, (ca.top + ca.bottom) / 2, [{ t: "Recombination rate (cM/Mb)", f: `18px ${FONT}`, dy: 0 }]);
      }
      ctx.restore();
    },
  };
}

function buildConfig(panel: PanelKey, chev: { left: HTMLCanvasElement; right: HTMLCanvasElement }) {
  const frame = panelFrames[panel];
  const datasets: any[] = [];
  if (panel === "a") {
    datasets.push(pointSet(hdraLead, BLUE, "circle", 5.5));
    datasets.push(pointSet(hdraRed, RED, "circle", 3.5));
    datasets.push(pointSet(hdraOrange, ORANGE, "circle", 3.5));
    datasets.push(pointSet(hdraOrangeDark, ORANGE_DARK, "circle", 3.5));
    datasets.push(pointSet(hdraYellow, YELLOW, "circle", 3.5));
    datasets.push(pointSet(hdraWhite, WHITE, "circle", 3.5));
    datasets.push(pointSet(hdraBase, WHITE, "circle", 3.5));
  } else if (panel === "b") {
    datasets.push(pointSet(typedLead, BLUE, "circle", 5.5));
    datasets.push(pointSet(typedRed, RED, "circle", 3.5));
    datasets.push(pointSet(typedOrange, ORANGE, "circle", 3.5));
    datasets.push(pointSet(typedOrangeDark, ORANGE_DARK, "circle", 3.5));
    datasets.push(pointSet(typedYellow, YELLOW, "circle", 3.5));
    datasets.push(pointSet(typedBaseYellow, YELLOW, "circle", 3.5));
    datasets.push(pointSet(typedWhite, WHITE, "circle", 3.5));
    datasets.push(pointSet(typedBase, WHITE, "circle", 3.5));
  } else {
    datasets.push(pointSet(imputedLead, BLUE, "rectRot", 8));
    datasets.push(pointSet(typedLead, BLUE, "circle", 5.5));
    datasets.push(pointSet(imputedRed, RED, "rectRot", 3.8));
    datasets.push(pointSet(typedRed, RED, "circle", 3.2));
    datasets.push(pointSet(typedOrange, ORANGE, "circle", 3.5));
    datasets.push(pointSet(typedOrangeDark, ORANGE_DARK, "circle", 3.5));
    datasets.push(pointSet(typedYellow, YELLOW, "circle", 3.5));
    datasets.push(pointSet(typedBaseYellow, YELLOW, "circle", 3.5));
    datasets.push(pointSet(imputedOrange, ORANGE, "rectRot", 4));
    datasets.push(pointSet(imputedOrangeDark, ORANGE_DARK, "rectRot", 4));
    datasets.push(pointSet(imputedYellow, YELLOW, "rectRot", 4));
    datasets.push(pointSet(typedWhite, WHITE, "circle", 3.5));
    datasets.push(pointSet(typedBase, WHITE, "circle", 3.5));
    datasets.push(pointSet(imputedWhite, WHITE, "rectRot", 4));
    datasets.push(pointSet(imputedBase, WHITE, "rectRot", 4));
  }
  datasets.push({
    type: "line",
    data: recombPos.map((x, i) => ({ x, y: recombRate[i] })),
    yAxisID: "y2",
    stepped: "after",
    borderColor: RECOMB_BLUE,
    borderWidth: 1.3,
    pointRadius: 0,
    fill: false,
  });
  [geneRow1, geneRow2, geneRow3, geneRow4].forEach((row, r) => {
    datasets.push({
      type: "scatter",
      data: row.map(([p]) => ({ x: p, y: geneRowY[r] })),
      yAxisID: "y",
      pointRadius: 3,
      pointStyle: (c: any) => (row[c.dataIndex] && row[c.dataIndex][1] > 0 ? chev.right : chev.left),
    });
  });

  const tickFont = { size: 18, family: FONT };
  const zeroPad = (s: any) => {
    s.paddingLeft = 0;
    s.paddingRight = 0;
    s.paddingTop = 0;
    s.paddingBottom = 0;
  };

  return {
    type: "scatter",
    data: { datasets },
    options: {
      responsive: false,
      animation: false,
      devicePixelRatio: 1,
      events: [],
      layout: { padding: { top: 41, left: 0, right: 0, bottom: 0 } },
      plugins: { legend: { display: false }, tooltip: { enabled: false } },
      scales: {
        x: {
          type: "linear",
          position: "bottom",
          min: xRange[0],
          max: xRange[1],
          afterBuildTicks: (s: any) => {
            s.ticks = xTickValues.map((value) => ({ value }));
          },
          afterFit: (s: any) => {
            s.height = 64;
            zeroPad(s);
          },
          ticks: { autoSkip: false, maxRotation: 0, padding: 5, color: "#000", font: tickFont, callback: (v: any) => Number(v).toFixed(1) },
          grid: { drawOnChartArea: false, drawTicks: true, tickLength: 11, tickColor: "#000", tickWidth: 1.3 },
          border: { display: false },
        },
        y: {
          type: "linear",
          position: "left",
          min: pvalRange[0],
          max: pvalRange[1],
          afterBuildTicks: (s: any) => {
            s.ticks = pvalTickValues.map((value) => ({ value }));
          },
          afterFit: (s: any) => {
            s.width = frame.leftAxis;
            zeroPad(s);
          },
          ticks: {
            display: panel === "a",
            autoSkip: false,
            padding: 9,
            color: "#000",
            font: tickFont,
            callback: (v: any) => (Number(v) % 10 === 0 ? String(v) : ""),
          },
          grid: { drawOnChartArea: false, drawTicks: true, tickLength: 8, tickColor: "#000", tickWidth: 1.3 },
          border: { display: false },
        },
        y2: {
          type: "linear",
          position: "right",
          min: recombRange[0],
          max: recombRange[1],
          afterBuildTicks: (s: any) => {
            s.ticks = recombTickValues.map((value) => ({ value }));
          },
          afterFit: (s: any) => {
            s.width = frame.rightAxis;
            zeroPad(s);
          },
          ticks: { display: panel === "c", autoSkip: false, padding: 9, color: "#000", font: tickFont },
          grid: { drawOnChartArea: false, drawTicks: true, tickLength: 10, tickColor: "#000", tickWidth: 1.3 },
          border: { display: false },
        },
      },
    },
    plugins: [makeDeco(panel)],
  };
}

export default function App() {
  const refA = useRef<HTMLCanvasElement>(null);
  const refB = useRef<HTMLCanvasElement>(null);
  const refC = useRef<HTMLCanvasElement>(null);

  useEffect(() => {
    const chev = { left: makeChevron(-1), right: makeChevron(1) };
    const charts = [
      new Chart(refA.current!, buildConfig("a", chev) as any),
      new Chart(refB.current!, buildConfig("b", chev) as any),
      new Chart(refC.current!, buildConfig("c", chev) as any),
    ];
    return () => charts.forEach((c) => c.destroy());
  }, []);

  const canvasStyle = (k: PanelKey): React.CSSProperties => ({
    position: "absolute",
    left: panelFrames[k].canvasLeft,
    top: 0,
    width: panelFrames[k].canvasWidth,
    height: 557,
  });

  return (
    <div style={{ position: "absolute", left: 0, top: 0, width: 1270, height: 557, background: "#fff", overflow: "hidden" }}>
      <canvas ref={refA} width={panelFrames.a.canvasWidth} height={557} style={canvasStyle("a")} />
      <canvas ref={refB} width={panelFrames.b.canvasWidth} height={557} style={canvasStyle("b")} />
      <canvas ref={refC} width={panelFrames.c.canvasWidth} height={557} style={canvasStyle("c")} />
    </div>
  );
}
